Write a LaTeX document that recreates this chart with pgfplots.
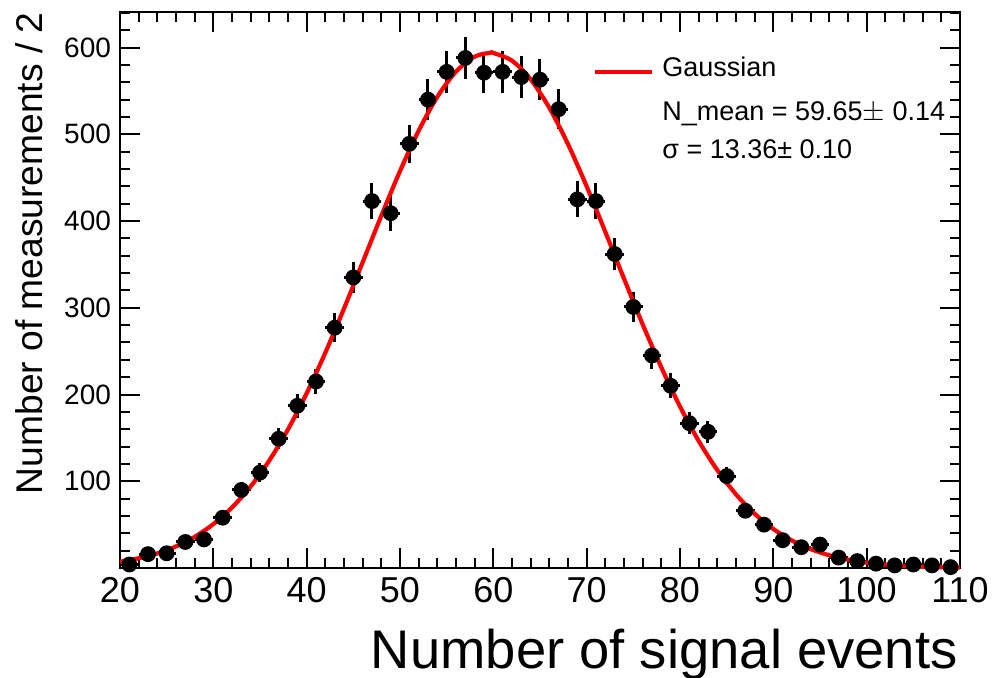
\documentclass[border=0pt]{standalone}
\usepackage{pgfplots}
\pgfplotsset{compat=1.18}
\usepackage{pgfplotstable}
\usepackage{fontspec}
\setmainfont{Liberation Sans}
\pgfplotstableread{
x y ex ey
21 4 1 2.0
23 16 1 4.0
25 17 1 4.1
27 30 1 5.5
29 33 1 5.7
31 58 1 7.6
33 90 1 9.5
35 110 1 10.5
37 149 1 12.2
39 187 1 13.7
41 215 1 14.7
43 277 1 16.6
45 335 1 18.3
47 423 1 20.6
49 409 1 20.2
51 489 1 22.1
53 540 1 23.2
55 572 1 23.9
57 588 1 24.2
59 571 1 23.9
61 572 1 23.9
63 566 1 23.8
65 563 1 23.7
67 529 1 23.0
69 425 1 20.6
71 423 1 20.6
73 362 1 19.0
75 301 1 17.3
77 245 1 15.7
79 210 1 14.5
81 167 1 12.9
83 157 1 12.5
85 106 1 10.3
87 66 1 8.1
89 50 1 7.1
91 32 1 5.7
93 24 1 4.9
95 27 1 5.2
97 12 1 3.5
99 8 1 2.8
101 5 1 2.2
103 3 1 1.7
105 4 1 2.0
107 3 1 1.7
109 1 1 1.0
}\datatable
\pgfplotstableread{
x y
20 7.27
22 11.20
24 16.89
26 24.90
28 35.91
30 50.62
32 69.78
34 94.05
36 123.97
38 159.78
40 201.40
42 248.20
44 299.11
46 352.47
48 406.13
50 457.61
52 504.19
54 543.19
56 572.24
58 589.49
59.65 594.00
60 593.80
62 584.88
64 563.34
66 530.55
68 488.61
70 440.01
72 387.46
74 333.63
76 280.90
78 231.29
80 186.20
82 146.57
84 112.84
86 84.94
88 62.53
90 45.00
92 31.67
94 21.79
96 14.67
98 9.65
100 6.21
102 3.91
104 2.41
106 1.45
108 0.85
110 0.49
}\fittable
\begin{document}
\begin{tikzpicture}
\useasboundingbox (-60pt,-54.5pt) rectangle (436pt,284pt);
\begin{axis}[
  scale only axis,
  width=420pt, height=278pt,
  at={(0,0)}, anchor=south west,
  xmin=20, xmax=110, ymin=0, ymax=641,
  clip=false,
  axis line style={line width=1pt},
  tick style={line width=1pt, black},
  tick align=inside,
  major tick length=10pt,
  minor tick length=5pt,
  xtick={20,30,...,110},
  minor xtick={22,24,...,108},
  ytick={100,200,...,600},
  minor ytick={20,40,...,640},
  /pgf/number format/assume math mode=true,
  xticklabel style={font=\fontsize{18}{20}\selectfont, yshift=-1pt},
  yticklabel style={font=\fontsize{14}{16}\selectfont, xshift=-1pt},
  xlabel={Number of signal events},
  xlabel style={font=\fontsize{27.2}{30}\selectfont, inner sep=0pt, at={(rel axis cs:1,0)}, anchor=base east, yshift=-50pt, xshift=-1pt},
  ylabel={Number of measurements / 2},
  ylabel style={font=\fontsize{18.6}{22}\selectfont, inner sep=0pt, at={(rel axis cs:0,1)}, anchor=base east, yshift=38.5pt},
]
\addplot[only marks, mark=*, mark size=3.2pt, black, line width=1.5pt,
  error bars/.cd, x dir=both, x explicit, y dir=both, y explicit,
  error mark=none, error bar style={line width=1.5pt, black}]
  table[x=x, y=y, x error=ex, y error=ey] {\datatable};
\addplot[red, line width=2.1pt, smooth, no marks] table[x=x, y=y] {\fittable};
\draw[red, line width=2pt] (axis cs:70.89,571.7) -- (axis cs:77.0,571.7);
\node[anchor=base west, inner sep=0pt, font=\fontsize{13.5}{15}\selectfont] at (axis cs:78.07,566.6) {Gaussian};
\node[anchor=base west, inner sep=0pt, font=\fontsize{13.5}{15}\selectfont] at (axis cs:78.07,515.6) {N\_mean = 59.65$\pm$ 0.14};
\node[anchor=base west, inner sep=0pt, font=\fontsize{13.5}{15}\selectfont] at (axis cs:78.07,472.6) {σ = 13.36± 0.10};
\end{axis}
\end{tikzpicture}
\end{document}
